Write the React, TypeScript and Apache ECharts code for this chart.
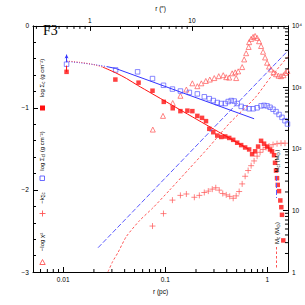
import React, { useEffect, useRef } from 'react';
import * as echarts from 'echarts';

// ---- data (r in pc) ----
// log Σ_cl : blue open squares
const clRadius = [0.01079, 0.03266, 0.05355, 0.07499, 0.09603, 0.1175, 0.1407, 0.1722, 0.2061, 0.2412, 0.2699, 0.2953, 0.3230, 0.3534, 0.3867, 0.4136, 0.4424, 0.4733, 0.5062, 0.5538, 0.6058, 0.6630, 0.7252, 0.7935, 0.8679, 0.9285, 0.9933, 1.0625, 1.1367, 1.2160, 1.3007, 1.3912, 1.4882, 1.5741];
const clLogSigma = [-0.467, -0.537, -0.560, -0.642, -0.724, -0.770, -0.794, -0.811, -0.829, -0.864, -0.887, -0.910, -0.934, -0.946, -0.946, -0.922, -0.910, -0.916, -0.946, -0.981, -0.998, -1.010, -1.010, -0.998, -0.975, -0.969, -0.975, -0.992, -1.016, -1.045, -1.080, -1.115, -1.156, -1.196];

// log Σ_c : red filled squares
const cRadius = [0.01079, 0.03244, 0.05476, 0.07499, 0.09669, 0.1183, 0.1407, 0.1647, 0.1842, 0.2061, 0.2291, 0.2506, 0.2699, 0.2953, 0.3230, 0.3534, 0.3867, 0.4229, 0.4627, 0.5062, 0.5538, 0.6058, 0.6630, 0.7090, 0.7586, 0.8114, 0.8679, 0.9285, 0.9933, 1.0625, 1.1114, 1.1625, 1.1890, 1.2160, 1.2436, 1.2636, 1.3007, 1.3392, 1.3696, 1.3912, 1.4325];
const cLogSigma = [-0.560, -0.654, -0.692, -0.790, -0.926, -1.004, -1.039, -1.033, -1.039, -1.097, -1.121, -1.161, -1.255, -1.296, -1.337, -1.354, -1.348, -1.366, -1.389, -1.424, -1.453, -1.482, -1.506, -1.564, -1.529, -1.471, -1.401, -1.436, -1.471, -1.506, -1.529, -1.576, -1.669, -1.763, -1.856, -1.938, -2.014, -2.128, -2.210, -2.303, -2.615];

// −log χ² : red open triangles
const chiRadius = [0.07550, 0.09497, 0.1183, 0.1407, 0.1609, 0.1842, 0.2061, 0.2255, 0.2495, 0.2730, 0.3020, 0.3341, 0.3696, 0.3955, 0.4229, 0.4523, 0.4840, 0.4950, 0.5177, 0.5665, 0.5926, 0.6198, 0.6557, 0.6630, 0.6934, 0.7252, 0.7586, 0.7935, 0.8298, 0.8679, 0.9078, 0.9496, 0.9933, 1.0390, 1.0867, 1.1494, 1.2160, 1.2862, 1.3606, 1.4389, 1.5049, 1.5741];
const chiLog = [-1.264, -1.097, -0.940, -0.852, -0.776, -0.700, -0.735, -0.700, -0.671, -0.654, -0.636, -0.613, -0.601, -0.625, -0.630, -0.578, -0.566, -0.636, -0.554, -0.502, -0.409, -0.333, -0.257, -0.198, -0.158, -0.134, -0.123, -0.146, -0.187, -0.245, -0.315, -0.385, -0.449, -0.496, -0.531, -0.566, -0.589, -0.607, -0.613, -0.601, -0.572, -0.549];

// −k_Σc : red plus signs
const kRadius = [0.07499, 0.09603, 0.1175, 0.1407, 0.1609, 0.1927, 0.2157, 0.2412, 0.2639, 0.2886, 0.3123, 0.3378, 0.3655, 0.3955, 0.4277, 0.4627, 0.4950, 0.5295, 0.5665, 0.6058, 0.6480, 0.6934, 0.7416, 0.7935, 0.8487, 0.9078, 0.9712, 1.0390, 1.1367, 1.2436, 1.3606, 1.4882];
const kValue = [-2.440, -2.288, -2.124, -2.066, -2.049, -2.089, -2.066, -2.031, -2.014, -1.990, -1.973, -2.002, -2.043, -2.060, -2.078, -2.101, -2.072, -2.019, -1.926, -1.833, -1.763, -1.704, -1.646, -1.588, -1.541, -1.506, -1.482, -1.465, -1.447, -1.436, -1.430, -1.430];

// fits of log Σ (dotted inner part, solid outer part)
const clFitDotRadius = [0.01079, 0.01455, 0.02038, 0.02669];
const clFitDotLog = [-0.432, -0.449, -0.473, -0.496];
const clFitRadius = [0.02669, 0.03266, 0.7416];
const clFitLog = [-0.496, -0.519, -1.132];
const cFitDotRadius = [0.01079, 0.01455, 0.01905, 0.02439];
const cFitDotLog = [-0.428, -0.444, -0.467, -0.502];
const cFitRadius = [0.02439, 0.03266, 0.04183, 0.05355, 0.6630];
const cFitLog = [-0.502, -0.572, -0.642, -0.724, -1.506];

// error bars at the innermost point
const errClRadius = [0.01079, 0.01079];
const errClLog = [-0.443, -0.350];
const errCRadius = [0.01079, 0.01079];
const errCLog = [-0.560, -0.484];

// enclosed masses (M_sun), right axis
const massClRadius = [0.02195, 1.592];
const massCl = [2.48, 3954];
const massCRadius = [0.02748, 0.03054, 0.03441, 0.04154, 0.05601, 0.07550, 0.1099, 0.1722, 0.2699, 0.4229, 0.7586, 1.0867, 1.592];
const massC = [1.01, 1.48, 2.07, 3.77, 6.85, 11.0, 21.3, 48.0, 109, 259, 681, 1496, 3177];

// axes
const rMinPc = 0.005062;
const rMaxPc = 1.592;
const pcPerArcsec = 0.01822;
const bottomTickValues = [0.01, 0.1, 1];
const bottomTickLabels = ['0.01', '0.1', '1'];
const topTickValues = [1, 10];
const topTickLabels = ['1', '10'];
const rightTickValues = [1, 10, 100, 1000, 10000];
const rightTickLabels = ['1', '10', '10²', '10³', '10⁴'];
const leftTickValues = [-3, -2, -1, 0];
const leftTickLabels = ['−3', '−2', '−1', '0'];
const bottomMinorTicks = [0.006, 0.007, 0.008, 0.009, 0.02, 0.03, 0.04, 0.05, 0.06, 0.07, 0.08, 0.09, 0.2, 0.3, 0.4, 0.5, 0.6, 0.7, 0.8, 0.9];
const topMinorTicks = [0.3, 0.4, 0.5, 0.6, 0.7, 0.8, 0.9, 2, 3, 4, 5, 6, 7, 8, 9, 20, 30, 40, 50, 60, 70, 80];
const rightMinorTicks = [2, 3, 4, 5, 6, 7, 8, 9, 20, 30, 40, 50, 60, 70, 80, 90, 200, 300, 400, 500, 600, 700, 800, 900, 2000, 3000, 4000, 5000, 6000, 7000, 8000, 9000];

const RED = '#ff1010';
const RED_LIGHT = '#ff5555';
const BLUE = '#3434ff';
const BLUE_LIGHT = '#5a5aff';
const FONT = 'Liberation Sans';

const pairs = (xs: number[], ys: number[]) => xs.map((x, i) => [x, ys[i]]);

const lookup = (vals: number[], labels: string[]) => (v: number) => {
  for (let i = 0; i < vals.length; i++) {
    if (Math.abs(Math.log10(v) - Math.log10(vals[i])) < 1e-6) return labels[i];
  }
  return '';
};

const tickSeries = (values: number[], side: 'bottom' | 'top' | 'right') => ({
  type: 'custom',
  xAxisIndex: side === 'top' ? 1 : 0,
  yAxisIndex: side === 'right' ? 1 : 0,
  silent: true,
  clip: false,
  z: 10,
  data: values.map((v) => (side === 'right' ? [1, v] : [v, -1])),
  renderItem: (params: any, api: any) => {
    const cs = params.coordSys;
    if (side === 'right') {
      const p = api.coord([1, api.value(1)]);
      const x = cs.x + cs.width;
      return { type: 'line', shape: { x1: x, y1: p[1], x2: x - 3, y2: p[1] }, style: { stroke: '#000', lineWidth: 1 } };
    }
    const p = api.coord([api.value(0), -1]);
    const y = side === 'bottom' ? cs.y + cs.height : cs.y;
    const d = side === 'bottom' ? -3 : 3;
    return { type: 'line', shape: { x1: p[0], y1: y, x2: p[0], y2: y + d }, style: { stroke: '#000', lineWidth: 1 } };
  },
});

const rotText = (x: number, y: number, text: string, color = '#000') => ({
  type: 'text',
  x,
  y,
  z: 100,
  rotation: Math.PI / 2,
  style: {
    text,
    align: 'center',
    verticalAlign: 'middle',
    rich: {
      m: { fontSize: 6, fontFamily: FONT, fill: color, lineHeight: 8, verticalAlign: 'middle' },
      s: { fontSize: 4.5, fontFamily: FONT, fill: color, lineHeight: 5, verticalAlign: 'bottom' },
    },
  },
});

export default function App() {
  const ref = useRef<HTMLDivElement>(null);
  useEffect(() => {
    if (!ref.current) return;
    const chart = echarts.init(ref.current, null, { renderer: 'svg' });
    const axisLine = { show: true, onZero: false, lineStyle: { color: '#000', width: 1 } };
    const labelStyle = { color: '#000', fontSize: 6.5, fontFamily: FONT };
    chart.setOption({
      animation: false,
      backgroundColor: '#fff',
      grid: { left: 33, right: 16, top: 15, bottom: 33 },
      xAxis: [
        {
          type: 'log',
          logBase: 10,
          min: rMinPc,
          max: rMaxPc,
          position: 'bottom',
          name: 'r (pc)',
          nameLocation: 'middle',
          nameGap: 12,
          nameTextStyle: { color: '#000', fontSize: 6.5, fontFamily: FONT },
          axisLine,
          axisTick: { show: true, inside: true, length: 5, lineStyle: { color: '#000' } },
          axisLabel: { ...labelStyle, margin: 4, formatter: lookup(bottomTickValues, bottomTickLabels) },
          splitLine: { show: false },
        },
        {
          type: 'log',
          logBase: 10,
          min: rMinPc / pcPerArcsec,
          max: rMaxPc / pcPerArcsec,
          position: 'top',
          name: 'r (″)',
          nameLocation: 'middle',
          nameGap: 11,
          nameTextStyle: { color: '#000', fontSize: 6.5, fontFamily: FONT },
          axisLine,
          axisTick: { show: true, inside: true, length: 5, lineStyle: { color: '#000' } },
          axisLabel: { ...labelStyle, margin: 2, formatter: lookup(topTickValues, topTickLabels) },
          splitLine: { show: false },
        },
      ],
      yAxis: [
        {
          type: 'value',
          min: -3,
          max: 0,
          interval: 1,
          position: 'left',
          axisLine,
          axisTick: { show: true, inside: true, length: 5, lineStyle: { color: '#000' } },
          minorTick: { show: true, splitNumber: 5, length: 3, lineStyle: { color: '#000' } },
          axisLabel: {
            ...labelStyle,
            margin: 4,
            formatter: (v: number) => {
              const i = leftTickValues.indexOf(Math.round(v));
              return i >= 0 ? leftTickLabels[i] : '';
            },
          },
          splitLine: { show: false },
          minorSplitLine: { show: false },
        },
        {
          type: 'log',
          logBase: 10,
          min: 1,
          max: 10000,
          position: 'right',
          axisLine,
          axisTick: { show: true, inside: true, length: 5, lineStyle: { color: '#000' } },
          axisLabel: { ...labelStyle, margin: 4, formatter: lookup(rightTickValues, rightTickLabels) },
          splitLine: { show: false },
        },
      ],
      series: [
        tickSeries(bottomMinorTicks, 'bottom'),
        tickSeries(topMinorTicks, 'top'),
        tickSeries(rightMinorTicks, 'right'),
        {
          type: 'line', xAxisIndex: 0, yAxisIndex: 1, data: pairs(massClRadius, massCl), symbol: 'none',
          lineStyle: { color: BLUE_LIGHT, width: 1, type: [5, 2] }, silent: true,
        },
        {
          type: 'line', xAxisIndex: 0, yAxisIndex: 1, data: pairs(massCRadius, massC), symbol: 'none', smooth: 0.2,
          lineStyle: { color: RED_LIGHT, width: 1, type: [2.5, 2] }, silent: true,
        },
        {
          type: 'line', data: pairs(clFitDotRadius, clFitDotLog), symbol: 'none', smooth: 0.3,
          lineStyle: { color: BLUE, width: 1, type: [1, 1.5] }, silent: true,
        },
        {
          type: 'line', data: pairs(clFitRadius, clFitLog), symbol: 'none',
          lineStyle: { color: BLUE, width: 1 }, silent: true,
        },
        {
          type: 'line', data: pairs(cFitDotRadius, cFitDotLog), symbol: 'none', smooth: 0.3,
          lineStyle: { color: RED_LIGHT, width: 1, type: [1, 1.5] }, silent: true,
        },
        {
          type: 'line', data: pairs(cFitRadius, cFitLog), symbol: 'none', smooth: 0.3,
          lineStyle: { color: RED, width: 1 }, silent: true,
        },
        {
          type: 'line',
          data: [
            { value: [errClRadius[0], errClLog[0]], symbol: 'none' },
            { value: [errClRadius[1], errClLog[1]], symbol: 'arrow', symbolSize: [3, 4] },
          ],
          itemStyle: { color: BLUE },
          lineStyle: { color: BLUE, width: 1 }, silent: true,
        },
        {
          type: 'line', data: pairs(errCRadius, errCLog), symbol: 'none',
          lineStyle: { color: RED, width: 1 }, silent: true,
        },
        {
          type: 'scatter', data: pairs(kRadius, kValue), symbol: 'path://M5,0 L5,10 M0,5 L10,5', symbolSize: 6,
          itemStyle: { color: 'none', borderColor: RED_LIGHT, borderWidth: 0.9 }, silent: true,
        },
        {
          type: 'scatter', data: pairs(chiRadius, chiLog), symbol: 'triangle', symbolSize: 5,
          itemStyle: { color: 'rgba(255,255,255,0)', borderColor: RED_LIGHT, borderWidth: 0.9 }, silent: true,
        },
        {
          type: 'scatter', data: pairs(clRadius, clLogSigma), symbol: 'rect', symbolSize: 4.5,
          itemStyle: { color: 'rgba(255,255,255,0)', borderColor: BLUE_LIGHT, borderWidth: 0.9 }, silent: true,
        },
        {
          type: 'scatter', data: pairs(cRadius, cLogSigma), symbol: 'rect', symbolSize: 4.5,
          itemStyle: { color: RED }, silent: true,
        },
      ],
      graphic: [
        { type: 'text', x: 43, y: 30, z: 100, style: { text: 'F3', fontSize: 14, fontFamily: 'Liberation Serif', fill: '#000', verticalAlign: 'middle' } },
        // left legend
        rotText(42, 78, '{m|log Σ}{s|c}{m| (g cm⁻²)}'),
        { type: 'rect', z: 100, shape: { x: 40, y: 105.5, width: 5, height: 5 }, style: { fill: RED } },
        rotText(42, 151, '{m|log Σ}{s|cl}{m| (g cm⁻²)}'),
        { type: 'rect', z: 100, shape: { x: 40, y: 176, width: 4.5, height: 4.5 }, style: { fill: 'none', stroke: BLUE_LIGHT, lineWidth: 0.9 } },
        rotText(42, 198, '{m|−k}{s|Σc}'),
        { type: 'line', z: 100, shape: { x1: 39.5, y1: 213.5, x2: 45.5, y2: 213.5 }, style: { stroke: RED_LIGHT, lineWidth: 0.9 } },
        { type: 'line', z: 100, shape: { x1: 42.5, y1: 210.5, x2: 42.5, y2: 216.5 }, style: { stroke: RED_LIGHT, lineWidth: 0.9 } },
        rotText(42, 242, '{m|−log χ²}'),
        { type: 'polygon', z: 100, shape: { points: [[42.5, 259.5], [45.2, 264.5], [39.8, 264.5]] }, style: { fill: 'none', stroke: RED_LIGHT, lineWidth: 0.9 } },
        // right legend
        rotText(277, 161, '{m|M}{s|cl}{m| (M}{s|⊙}{m|)}'),
        { type: 'line', z: 100, shape: { x1: 276.5, y1: 176, x2: 276.5, y2: 198 }, style: { stroke: BLUE_LIGHT, lineWidth: 1, lineDash: [5, 2] } },
        rotText(277, 233, '{m|M}{s|c}{m| (M}{s|⊙}{m|)}'),
        { type: 'line', z: 100, shape: { x1: 276.5, y1: 247, x2: 276.5, y2: 269 }, style: { stroke: RED_LIGHT, lineWidth: 1, lineDash: [2.5, 2] } },
      ],
    });
    return () => chart.dispose();
  }, []);
  return <div ref={ref} style={{ position: 'fixed', left: 0, top: 0, width: 305, height: 305 }} />;
}
